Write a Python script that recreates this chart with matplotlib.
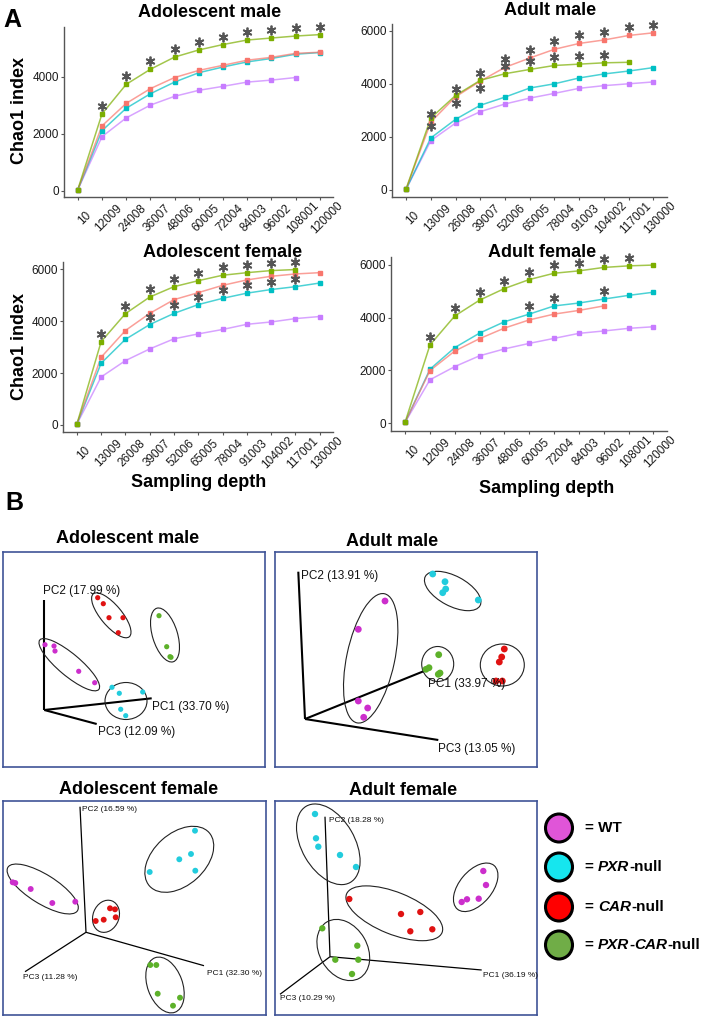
import numpy as np
import matplotlib
matplotlib.use('Agg')
import matplotlib.pyplot as plt
from matplotlib.patches import Ellipse
from matplotlib.transforms import offset_copy, ScaledTranslation

plt.rcParams['font.family'] = ['Liberation Sans', 'DejaVu Sans']

W, H = 705, 1018
nan = np.nan

# ---------------- A: Chao1 rarefaction curves ----------------
depth_12 = ['10', '12009', '24008', '36007', '48006', '60005', '72004', '84003', '96002', '108001', '120000']
depth_13 = ['10', '13009', '26008', '39007', '52006', '65005', '78004', '91003', '104002', '117001', '130000']

# adolescent male
adom_car = [30, 2280, 3070, 3590, 3980, 4230, 4410, 4590, 4690, 4830, 4870]
adom_dko = [40, 2700, 3740, 4270, 4700, 4950, 5140, 5300, 5370, 5440, 5490]
adom_pxr = [30, 2110, 2900, 3410, 3820, 4150, 4350, 4530, 4650, 4800, 4860]
adom_wt = [30, 1900, 2560, 3010, 3320, 3530, 3670, 3820, 3890, 3980, nan]
# adult male
adum_car = [30, 2560, 3510, 4100, 4620, 4970, 5300, 5520, 5650, 5820, 5920]
adum_dko = [40, 2710, 3560, 4130, 4380, 4540, 4690, 4740, 4790, 4810, nan]
adum_pxr = [30, 1960, 2660, 3190, 3500, 3840, 4000, 4220, 4370, 4480, 4610]
adum_wt = [30, 1860, 2520, 2950, 3240, 3460, 3640, 3830, 3930, 4000, 4070]
# adolescent female
adof_car = [30, 2610, 3640, 4300, 4830, 5100, 5380, 5590, 5730, 5820, 5870]
adof_dko = [30, 3210, 4290, 4930, 5330, 5560, 5770, 5870, 5950, 5990, nan]
adof_pxr = [30, 2380, 3300, 3870, 4300, 4640, 4880, 5080, 5220, 5330, 5470]
adof_wt = [30, 1850, 2480, 2930, 3320, 3510, 3680, 3880, 3970, 4100, 4180]
# adult female
aduf_car = [30, 1990, 2730, 3200, 3600, 3910, 4130, 4270, 4440, nan, nan]
aduf_dko = [40, 2960, 4060, 4660, 5100, 5440, 5680, 5770, 5900, 5960, 5990]
aduf_pxr = [30, 2040, 2860, 3410, 3840, 4130, 4440, 4550, 4700, 4840, 4960]
aduf_wt = [30, 1640, 2140, 2550, 2810, 3020, 3210, 3400, 3490, 3590, 3650]

# significance stars: (group, depth indices, +1 above / -1 below)
adom_stars = [('DKO', list(range(1, 11)), 1)]
adum_stars = [('CAR', list(range(1, 11)), 1), ('DKO', [1, 2, 3], -1), ('DKO', [4, 5, 6, 7, 8], 1)]
adof_stars = [('DKO', list(range(1, 10)), 1), ('PXR', list(range(3, 10)), 1)]
aduf_stars = [('DKO', list(range(1, 10)), 1), ('PXR', [5, 6, 8], 1)]

line_col = {'CAR': '#F8766D', 'DKO': '#7CAE00', 'PXR': '#00BFC4', 'WT': '#C77CFF'}

# ---------------- B: PCoA ----------------
adom_pts = {
    'WT': [(45, 644.7), (54, 646), (55, 651), (78.7, 671.3), (94.7, 682.7)],
    'PXR': [(112, 687.3), (119.3, 693.3), (142.7, 692), (120.7, 709.3), (125.7, 715.7)],
    'CAR': [(97.7, 597.7), (103.3, 603.7), (109, 617.7), (123, 617.7), (118.3, 632.7)],
    'DKO': [(159, 615.7), (166.7, 646.7), (170, 656.7), (171, 657.3)],
}
adom_ell = {'WT': (69.3, 664.7, 77, 22, 40), 'PXR': (126, 701, 42, 37, 0),
            'CAR': (111.3, 615.3, 56, 21, 50), 'DKO': (165, 635, 56, 25, 73)}
adom_axes = {'O': (44.3, 710), 'PC1': (151.7, 698.3), 'PC2': (44.3, 600), 'PC3': (96.7, 724)}
adom_labels = {'PC1': ('PC1 (33.70 %)', 151.7, 706.7), 'PC2': ('PC2 (17.99 %)', 43.3, 591),
               'PC3': ('PC3 (12.09 %)', 98.3, 731.7)}

adum_pts = {
    'WT': [(385, 601), (358.3, 629.3), (358.3, 701), (367.7, 708), (363.7, 717.3)],
    'PXR': [(432.7, 574), (445, 581.7), (445.7, 589), (442.7, 592.7), (478.3, 600)],
    'CAR': [(504.3, 649), (501.7, 657), (499.3, 662), (496, 681), (502.3, 681)],
    'DKO': [(438.7, 654.7), (429, 667.7), (426, 669.3), (440, 673), (438.3, 674.3)],
}
adum_ell = {'WT': (370.7, 658.3, 132, 48, 102), 'PXR': (452.7, 591, 62, 30, 28),
            'CAR': (502.3, 665, 44, 42, 0), 'DKO': (437.7, 664, 32, 35, 0)}
adum_axes = {'O': (305, 719), 'PC1': (426.7, 670), 'PC2': (298.3, 571.7), 'PC3': (438.3, 740)}
adum_labels = {'PC1': ('PC1 (33.97 %)', 428.3, 684.5), 'PC2': ('PC2 (13.91 %)', 300.7, 576),
               'PC3': ('PC3 (13.05 %)', 438.3, 748.7)}

adof_pts = {
    'WT': [(12.7, 882.3), (15.3, 883), (30.7, 889), (52.3, 903), (75.3, 901.7)],
    'PXR': [(195, 830.7), (191, 854), (179.3, 859.3), (195.3, 870.7), (149.7, 872)],
    'CAR': [(110, 908.3), (115, 909.3), (115.7, 917.3), (103.7, 919.7), (95.7, 921)],
    'DKO': [(150.3, 965), (156.3, 965), (157.7, 993.7), (180, 997.7), (173, 1005.7)],
}
adof_ell = {'WT': (42.7, 889, 82, 29, 32), 'PXR': (179.3, 859.3, 80, 52, -42),
            'CAR': (106, 916.3, 33, 26, 111), 'DKO': (165, 985, 58, 35, 70)}
adof_axes = {'O': (86, 932.3), 'PC1': (204, 965.7), 'PC2': (80, 806.7), 'PC3': (25, 971.7)}
adof_labels = {'PC1': ('PC1 (32.30 %)', 206.7, 973.3), 'PC2': ('PC2 (16.59 %)', 81.7, 809.3),
               'PC3': ('PC3 (11.28 %)', 23.3, 977.7)}

aduf_pts = {
    'WT': [(483.3, 871), (486, 885), (478.7, 898.7), (467, 899.3), (461.7, 902)],
    'PXR': [(315, 814), (316, 838.3), (318.3, 846.7), (340, 855), (356, 867)],
    'CAR': [(349.3, 899), (401, 914), (420.3, 912), (410.3, 931.3), (432.3, 929.3)],
    'DKO': [(322.3, 928.3), (357.3, 945.7), (335.3, 959.7), (358.3, 959.7), (352, 974)],
}
aduf_ell = {'WT': (475.7, 887.3, 57, 33, -50), 'PXR': (328.3, 844.3, 88, 53, 60),
            'CAR': (394.3, 913.3, 103, 42, 22), 'DKO': (343.3, 950, 65, 48, 60)}
aduf_axes = {'O': (330, 956.7), 'PC1': (481.7, 970), 'PC2': (325, 816.7), 'PC3': (280, 994.3)}
aduf_labels = {'PC1': ('PC1 (36.19 %)', 482.7, 975.7), 'PC2': ('PC2 (18.28 %)', 329.3, 820.3),
               'PC3': ('PC3 (10.29 %)', 280, 998.3)}

pt_col = {'WT': '#CC2ECC', 'PXR': '#22CCDD', 'CAR': '#E01212', 'DKO': '#5DB12A'}

legend_groups = ['WT', 'PXR', 'CAR', 'DKO']
legend_col = {'WT': '#E055D8', 'PXR': '#16E6EE', 'CAR': '#FF0000', 'DKO': '#70AD47'}
legend_text = {'WT': [('= WT', 'normal')],
               'PXR': [('= ', 'normal'), ('PXR', 'italic'), ('-null', 'normal')],
               'CAR': [('= ', 'normal'), ('CAR', 'italic'), ('-null', 'normal')],
               'DKO': [('= ', 'normal'), ('PXR', 'italic'), ('-', 'normal'), ('CAR', 'italic'), ('-null', 'normal')]}

fig = plt.figure(figsize=(W / 100, H / 100), dpi=100)


def px_axes(l, t, r, b):
    return fig.add_axes([l / W, 1 - b / H, (r - l) / W, (b - t) / H])


def curve_panel(box, depth, series, stars, ylim, yticks):
    ax = px_axes(*box)
    x = np.arange(len(depth))
    for key in ['WT', 'PXR', 'CAR', 'DKO']:
        vals = np.asarray(series[key], float)
        ax.plot(x, vals, color=line_col[key], lw=1.1, alpha=0.7, zorder=2)
        ax.plot(x, vals, ls='none', marker='s', ms=2.6, color=line_col[key], zorder=3)
    for key, idx, sign in stars:
        tr = offset_copy(ax.transData, fig=fig, y=8 * sign, units='dots')
        vals = np.asarray(series[key], float)
        ax.plot(idx, vals[idx], ls='none', marker=(6, 2, 0), ms=7, mew=1.3,
                color='#555555', transform=tr, zorder=4, clip_on=False)
    ax.set_xlim(-0.57, 10.55)
    ax.set_ylim(*ylim)
    ax.set_xticks(x)
    ax.set_xticklabels(depth, rotation=45, ha='center', va='center',
                       rotation_mode='anchor', fontsize=8.5, color='#1a1a1a')
    ax.set_yticks(yticks)
    ax.set_yticklabels([str(v) for v in yticks], fontsize=8.5, color='#1a1a1a')
    ax.tick_params(axis='x', length=2.2, width=0.8, color='#555555', pad=13)
    ax.tick_params(axis='y', length=2.2, width=0.8, color='#555555', pad=1.5)
    for s in ['top', 'right']:
        ax.spines[s].set_visible(False)
    for s in ['left', 'bottom']:
        ax.spines[s].set_color('#555555')
        ax.spines[s].set_linewidth(1.0)
    shift = ScaledTranslation(7 / 100, 0, fig.dpi_scale_trans)
    for lab in ax.get_xticklabels():
        lab.set_transform(lab.get_transform() + shift)
    return ax


curve_panel((64, 27, 333, 197), depth_12,
            {'CAR': adom_car, 'DKO': adom_dko, 'PXR': adom_pxr, 'WT': adom_wt},
            adom_stars, (-222, 5758), [0, 2000, 4000])
curve_panel((392, 24, 667, 197), depth_13,
            {'CAR': adum_car, 'DKO': adum_dko, 'PXR': adum_pxr, 'WT': adum_wt},
            adum_stars, (-264, 6252), [0, 2000, 4000, 6000])
curve_panel((63, 262, 333, 432), depth_13,
            {'CAR': adof_car, 'DKO': adof_dko, 'PXR': adof_pxr, 'WT': adof_wt},
            adof_stars, (-270, 6281), [0, 2000, 4000, 6000])
curve_panel((391, 257, 667, 431), depth_12,
            {'CAR': aduf_car, 'DKO': aduf_dko, 'PXR': aduf_pxr, 'WT': aduf_wt},
            aduf_stars, (-303, 6296), [0, 2000, 4000, 6000])


def ftext(x, y, s, **kw):
    fig.text(x / W, 1 - y / H, s, **kw)


# titles and axis labels of panel A
for s, x, y in [('Adolescent male', 210, 17), ('Adult male', 550, 15),
                ('Adolescent female', 223, 257), ('Adult female', 542, 257)]:
    ftext(x, y, s, fontsize=13, fontweight='bold', ha='center', va='baseline')
for y in [111, 347]:
    ftext(20, y, 'Chao1 index', fontsize=13, fontweight='bold', rotation=90, ha='center', va='center')
for x, y in [(199, 487), (547, 493)]:
    ftext(x, y, 'Sampling depth', fontsize=13, fontweight='bold', ha='center', va='baseline')
ftext(3, 27, 'A', fontsize=18, fontweight='bold', ha='left', va='baseline')
ftext(5, 510, 'B', fontsize=18, fontweight='bold', ha='left', va='baseline')


def pcoa_panel(box, pts, ells, axes, labels, size, fs, axis_lw):
    l, t, r, b = box
    ax = px_axes(l, t, r, b)
    ax.set_xlim(l, r)
    ax.set_ylim(b, t)
    ax.set_xticks([])
    ax.set_yticks([])
    for sp in ax.spines.values():
        sp.set_color('#3F5497')
        sp.set_linewidth(1.2)
    ox, oy = axes['O']
    for k in ['PC1', 'PC2', 'PC3']:
        ex, ey = axes[k]
        ax.plot([ox, ex], [oy, ey], color='black', lw=axis_lw, solid_capstyle='butt', zorder=2)
        s, lx, ly = labels[k]
        ax.text(lx, ly, s, fontsize=fs, ha='left', va='center', color='#111111', zorder=5)
    for g in ['WT', 'PXR', 'CAR', 'DKO']:
        xy = np.array(pts[g])
        ax.scatter(xy[:, 0], xy[:, 1], s=size, color=pt_col[g], edgecolor='none', zorder=4)
        cx, cy, w, h, ang = ells[g]
        ax.add_patch(Ellipse((cx, cy), w, h, angle=ang, fill=False, ec='#222222', lw=0.8, zorder=3))
    return ax


pcoa_panel((3, 552, 265, 767), adom_pts, adom_ell, adom_axes, adom_labels, 14, 8.5, 1.5)
pcoa_panel((275, 552, 537, 767), adum_pts, adum_ell, adum_axes, adum_labels, 24, 8.5, 1.5)
pcoa_panel((3, 801, 266, 1015), adof_pts, adof_ell, adof_axes, adof_labels, 18, 6, 0.9)
pcoa_panel((275, 801, 537, 1015), aduf_pts, aduf_ell, aduf_axes, aduf_labels, 21, 6, 0.9)

for s, x, y in [('Adolescent male', 128, 543), ('Adult male', 392, 546),
                ('Adolescent female', 139, 794), ('Adult female', 403, 795)]:
    ftext(x, y, s, fontsize=13, fontweight='bold', ha='center', va='baseline')

# legend
lax = fig.add_axes([0, 0, 1, 1])
lax.set_xlim(0, W)
lax.set_ylim(H, 0)
lax.axis('off')
renderer = fig.canvas.get_renderer()
for g, y in zip(legend_groups, [828, 867, 907, 945]):
    lax.add_patch(Ellipse((559, y), 27, 28, fc=legend_col[g], ec='black', lw=2.2))
    x = 585
    for s, style in legend_text[g]:
        t = lax.text(x, y, s, fontsize=11, fontweight='bold', fontstyle=style,
                     ha='left', va='center')
        x += t.get_window_extent(renderer=renderer).width

fig.savefig('out.png', dpi=100)
